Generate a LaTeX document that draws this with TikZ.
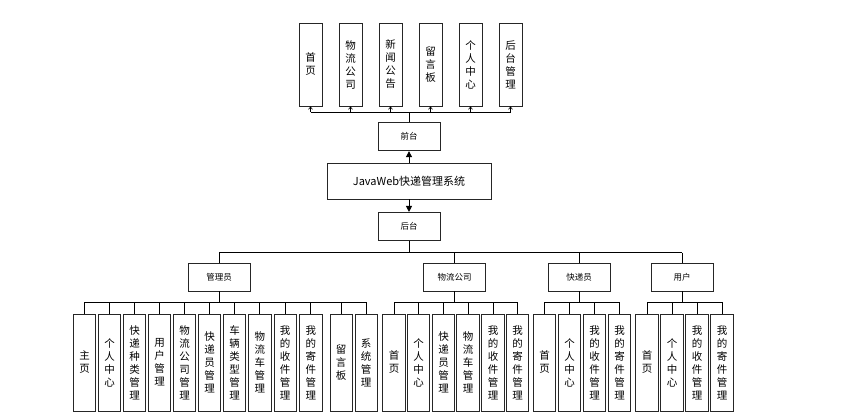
\documentclass[tikz,border=0pt]{standalone}
\usepackage{fontspec}
\setmainfont{Noto Sans CJK SC}
\newfontfamily\cjk{Noto Sans CJK SC}
\usetikzlibrary{arrows.meta,calc}
\begin{document}
\begin{tikzpicture}[x=1pt,y=-1pt,
  line/.style={draw=black,line width=0.8pt},
  vbox/.style={draw=black!85,line width=0.9pt,fill=white,inner sep=0pt,align=center,
     font=\cjk\fontsize{10.5}{13}\selectfont},
  topbox/.style={vbox,minimum width=23pt,minimum height=83pt},
  kid/.style={vbox,minimum width=22.5pt,minimum height=97pt},
  hbox/.style={draw=black!85,line width=0.9pt,fill=white,inner sep=0pt,
     font=\cjk\fontsize{8.5}{10}\selectfont,minimum width=62pt,minimum height=28pt},
  sysbox/.style={draw=black!85,line width=0.9pt,fill=white,inner sep=0pt,
     font=\cjk\fontsize{11}{13}\selectfont,minimum width=164pt,minimum height=36pt},
  smallarr/.style={-{Straight Barb[length=2.5pt,width=4pt]},line width=0.6pt},
  bigarr/.style={-{Triangle[length=6pt,width=6pt]},line width=0.8pt}
]
\useasboundingbox (0,0) rectangle (865,420);
\fill[white] (0,0) rectangle (865,420);

% top level boxes
\node[topbox] (t1) at (310.5,64.5) {首\\页};
\node[topbox] (t2) at (350.5,64.5) {物\\流\\公\\司};
\node[topbox] (t3) at (390.5,64.5) {新\\闻\\公\\告};
\node[topbox] (t4) at (430.5,64.5) {留\\言\\板};
\node[topbox] (t5) at (470.5,64.5) {个\\人\\中\\心};
\node[topbox] (t6) at (510.5,64.5) {后\\台\\管\\理};

\node[hbox] (qt) at (409,136.7) {前台};
\node[sysbox] (sys) at (409,181) {JavaWeb快递管理系统};
\node[hbox] (ht) at (409,226.4) {后台};

\coordinate (topbus) at (0,112);
\draw[line] (t1.south |- topbus) -- (t6.south |- topbus);
\foreach \n in {t1,t2,t3,t4,t5,t6}
  \draw[smallarr] (\n.south |- topbus) -- (\n.south);
\draw[line] (qt.north) -- (qt.north |- topbus);

\draw[bigarr] (sys.north) -- (qt.south);
\draw[bigarr] (sys.south) -- (ht.north);

% second level
\node[hbox] (adm) at (219,277) {管理员};
\node[hbox] (wl) at (454.5,277) {物流公司};
\node[hbox] (kd) at (579,277) {快递员};
\node[hbox] (yh) at (682,277) {用户};

\coordinate (midbus) at (0,252.7);
\draw[line] (ht.south) -- (ht.south |- midbus);
\draw[line] (adm.north |- midbus) -- (yh.north |- midbus);
\foreach \n in {adm,wl,kd,yh}
  \draw[line] (\n.north |- midbus) -- (\n.north);

% children
\coordinate (bus) at (0,302);
\node[kid] (a1) at (84.5,362.5) {主\\页};
\node[kid] (a2) at (109.5,362.5) {个\\人\\中\\心};
\node[kid] (a3) at (134.5,362.5) {快\\递\\种\\类\\管\\理};
\node[kid] (a4) at (159.5,362.5) {用\\户\\管\\理};
\node[kid] (a5) at (184.5,362.5) {物\\流\\公\\司\\管\\理};
\node[kid] (a6) at (209.5,362.5) {快\\递\\员\\管\\理};
\node[kid] (a7) at (234.5,362.5) {车\\辆\\类\\型\\管\\理};
\node[kid] (a8) at (259.8,362.5) {物\\流\\车\\管\\理};
\node[kid] (a9) at (285.2,362.5) {我\\的\\收\\件\\管\\理};
\node[kid] (a10) at (310.8,362.5) {我\\的\\寄\\件\\管\\理};
\node[kid] (a11) at (341.2,362.5) {留\\言\\板};
\node[kid] (a12) at (366.2,362.5) {系\\统\\管\\理};

\node[kid] (b1) at (394,362.5) {首\\页};
\node[kid] (b2) at (418.5,362.5) {个\\人\\中\\心};
\node[kid] (b3) at (443.5,362.5) {快\\递\\员\\管\\理};
\node[kid] (b4) at (468,362.5) {物\\流\\车\\管\\理};
\node[kid] (b5) at (493,362.5) {我\\的\\收\\件\\管\\理};
\node[kid] (b6) at (517.5,362.5) {我\\的\\寄\\件\\管\\理};

\node[kid] (c1) at (544.5,362.5) {首\\页};
\node[kid] (c2) at (569.5,362.5) {个\\人\\中\\心};
\node[kid] (c3) at (594.5,362.5) {我\\的\\收\\件\\管\\理};
\node[kid] (c4) at (619.5,362.5) {我\\的\\寄\\件\\管\\理};

\node[kid] (d1) at (647,362.5) {首\\页};
\node[kid] (d2) at (672,362.5) {个\\人\\中\\心};
\node[kid] (d3) at (697,362.5) {我\\的\\收\\件\\管\\理};
\node[kid] (d4) at (722,362.5) {我\\的\\寄\\件\\管\\理};

\draw[line] (adm.south) -- (adm.south |- bus);
\draw[line] (a1.north |- bus) -- (a12.north |- bus);
\foreach \n in {a1,a2,a3,a4,a5,a6,a7,a8,a9,a10,a11,a12}
  \draw[line] (\n.north |- bus) -- (\n.north);

\draw[line] (wl.south) -- (wl.south |- bus);
\draw[line] (b1.north |- bus) -- (b6.north |- bus);
\foreach \n in {b1,b2,b3,b4,b5,b6}
  \draw[line] (\n.north |- bus) -- (\n.north);

\draw[line] (kd.south) -- (kd.south |- bus);
\draw[line] (c1.north |- bus) -- (c4.north |- bus);
\foreach \n in {c1,c2,c3,c4}
  \draw[line] (\n.north |- bus) -- (\n.north);

\draw[line] (yh.south) -- (yh.south |- bus);
\draw[line] (d1.north |- bus) -- (d4.north |- bus);
\foreach \n in {d1,d2,d3,d4}
  \draw[line] (\n.north |- bus) -- (\n.north);
\end{tikzpicture}
\end{document}
